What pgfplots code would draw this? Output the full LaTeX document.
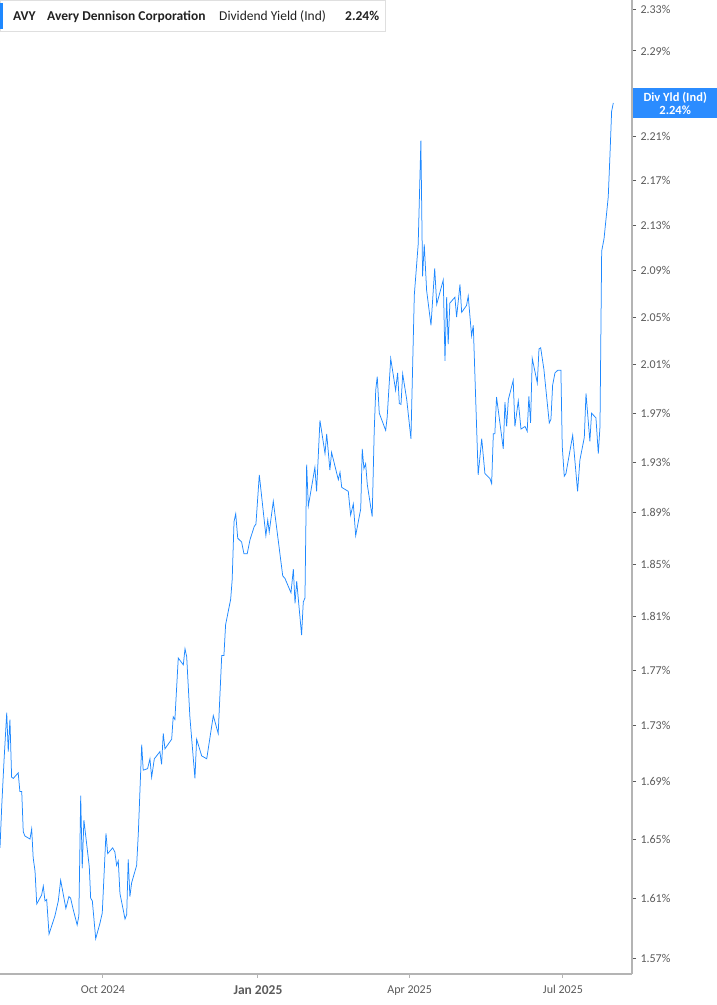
\documentclass[border=0pt]{standalone}
\usepackage{pgfplots}
\pgfplotsset{compat=1.18}
\usepackage{fontspec}
\setmainfont{Carlito}
\definecolor{lineblue}{HTML}{1E88FF}
\definecolor{tagblue}{HTML}{2B8CFF}
\definecolor{axisgray}{HTML}{B4B4B4}
\definecolor{ticktext}{HTML}{5A5A5A}
\definecolor{titletext}{HTML}{222222}

\begin{document}
\begin{tikzpicture}[x=1pt,y=1pt]
% page = 717 x 1005 px, axis box = 632 x 974 px
\path[use as bounding box] (0,-31) rectangle (717,974);
\begin{axis}[
  at={(0,0)}, anchor=south west,
  scale only axis, width=632pt, height=974pt,
  ymode=log,
  xmin=-153.1, xmax=222.0,
  ymin=1.5599, ymax=2.3391,
  axis x line*=bottom, axis y line*=right,
  axis line style={axisgray, line width=1.4pt},
  tick align=outside,
  major tick length=4pt,
  xtick={-92,0,90,181},
  xticklabels={Oct 2024,{\bfseries\fontsize{13.5}{14}\selectfont Jan 2025},Apr 2025,Jul 2025},
  x tick style={axisgray, line width=1pt},
  xticklabel style={font=\fontsize{12}{13}\selectfont, text=ticktext, yshift=-4pt},
  ytick={1.57,1.61,1.65,1.69,1.73,1.77,1.81,1.85,1.89,1.93,1.97,2.01,2.05,2.09,2.13,2.17,2.21,2.25,2.29,2.33},
  % the 2.25% label sits under the value tag
  yticklabels={1.57\%,1.61\%,1.65\%,1.69\%,1.73\%,1.77\%,1.81\%,1.85\%,1.89\%,1.93\%,1.97\%,2.01\%,2.05\%,2.09\%,2.13\%,2.17\%,2.21\%,,2.29\%,2.33\%},
  y tick style={ticktext, line width=1pt},
  yticklabel style={font=\fontsize{12}{13}\selectfont, text=ticktext, anchor=west, xshift=1pt},
  minor tick num=0,
  clip=true,
]
% x: days from 1 Jan 2025, y: dividend yield in %
\addplot[lineblue, line width=0.75pt] coordinates {
(-153.1,1.644)(-152.1,1.672)(-150.7,1.705)(-149.1,1.739)(-148.2,1.711)(-147.2,1.734)
(-146.2,1.693)(-145.2,1.692)(-142.3,1.696)(-141.3,1.683)(-140.2,1.683)(-139.3,1.655)
(-138.3,1.652)(-135.3,1.650)(-134.3,1.657)(-133.4,1.637)(-132.3,1.628)(-131.3,1.606)
(-128.4,1.612)(-127.4,1.618)(-126.4,1.608)(-125.4,1.609)(-124.0,1.586)(-120.5,1.598)
(-118.5,1.608)(-117.1,1.622)(-114.0,1.603)(-112.2,1.611)(-111.2,1.610)(-109.6,1.602)
(-107.3,1.592)(-106.3,1.598)(-105.2,1.680)(-104.3,1.630)(-103.3,1.663)(-100.1,1.631)
(-99.3,1.610)(-98.3,1.608)(-96.3,1.583)(-93.8,1.593)(-92.4,1.600)(-90.2,1.654)
(-89.2,1.640)(-86.2,1.644)(-84.9,1.641)(-83.9,1.632)(-82.9,1.635)(-81.9,1.613)
(-78.9,1.596)(-77.9,1.599)(-77.0,1.636)(-76.0,1.611)(-75.0,1.620)(-72.0,1.632)
(-71.0,1.654)(-69.0,1.716)(-68.1,1.698)(-65.5,1.699)(-64.1,1.706)(-63.1,1.693)
(-61.5,1.706)(-58.2,1.711)(-57.2,1.702)(-56.2,1.724)(-55.2,1.713)(-51.2,1.720)
(-50.3,1.736)(-49.3,1.734)(-47.3,1.779)(-44.3,1.774)(-43.3,1.786)(-42.3,1.780)
(-40.4,1.736)(-37.4,1.692)(-36.4,1.720)(-33.4,1.708)(-30.4,1.706)(-26.5,1.737)
(-23.6,1.724)(-21.5,1.781)(-20.2,1.781)(-19.2,1.804)(-16.2,1.823)(-15.3,1.838)
(-14.2,1.883)(-13.2,1.889)(-12.0,1.870)(-9.7,1.867)(-8.3,1.858)(-6.4,1.858)
(-4.7,1.869)(-2.2,1.879)(-1.2,1.881)(0.8,1.920)(4.7,1.872)(5.8,1.884)
(6.7,1.875)(9.1,1.899)(14.7,1.841)(16.0,1.839)(19.6,1.828)(21.0,1.846)
(22.0,1.820)(23.0,1.837)(25.9,1.796)(26.9,1.821)(27.9,1.824)(28.9,1.928)
(29.9,1.895)(33.8,1.926)(34.8,1.907)(36.8,1.964)(39.8,1.937)(40.8,1.953)
(42.7,1.924)(43.7,1.938)(47.7,1.916)(48.7,1.922)(49.7,1.910)(53.6,1.907)
(55.0,1.888)(56.6,1.897)(58.0,1.872)(61.0,1.893)(61.9,1.941)(62.9,1.925)
(63.9,1.929)(64.9,1.912)(67.8,1.887)(69.0,1.955)(69.9,1.989)(70.8,2.000)
(72.0,1.970)(75.8,1.956)(76.7,1.967)(78.8,2.015)(81.7,1.989)(82.9,2.003)
(83.9,1.978)(84.9,1.977)(85.9,2.002)(88.3,1.981)(90.8,1.949)(92.8,2.069)
(95.1,2.113)(96.7,2.206)(97.7,2.085)(98.7,2.113)(100.1,2.073)(102.7,2.043)
(104.9,2.092)(106.1,2.061)(110.0,2.082)(111.0,2.013)(112.0,2.067)(112.9,2.027)
(113.9,2.062)(116.9,2.067)(117.9,2.050)(119.9,2.078)(120.9,2.054)(123.8,2.060)
(124.8,2.068)(126.8,2.034)(127.8,2.043)(130.7,1.920)(132.8,1.949)(134.7,1.921)
(137.7,1.917)(138.7,1.913)(139.7,1.953)(140.6,1.953)(141.6,1.983)(145.6,1.941)
(146.6,1.979)(147.6,1.959)(148.6,1.981)(151.5,1.997)(152.5,1.959)(154.5,1.980)
(156.1,1.957)(158.5,1.959)(159.8,1.955)(160.8,1.984)(161.8,1.962)(162.8,2.015)
(165.8,1.995)(166.8,2.023)(167.8,2.024)(169.7,2.006)(172.9,1.962)(173.9,1.965)
(174.9,1.993)(176.3,2.003)(177.9,2.005)(179.8,2.005)(180.6,1.943)(181.8,1.919)
(182.8,1.921)(186.8,1.952)(189.7,1.907)(191.1,1.932)(193.7,1.950)(194.7,1.986)
(197.0,1.947)(198.0,1.970)(200.6,1.966)(202.0,1.937)(203.0,1.959)(204.0,2.107)
(205.4,2.118)(207.9,2.155)(208.9,2.192)(209.9,2.233)(210.9,2.241)
};
\end{axis}
% current value tag on the right axis
\node[fill=tagblue, text=white, font=\bfseries\fontsize{12.5}{13}\selectfont,
      align=center, anchor=west, minimum width=84pt, minimum height=30pt, inner sep=0pt]
      at (633,871) {Div Yld (Ind)\\2.24\%};
% header box
\draw[gray!25, fill=white, line width=0.8pt] (0.4,973.6) rectangle (385,943);
\fill[lineblue] (0,971) rectangle (3,945);
\node[anchor=base west, inner sep=0pt, text=titletext, font=\bfseries\fontsize{13.5}{14}\selectfont] at (13,953) {AVY};
\node[anchor=base west, inner sep=0pt, text=titletext, font=\bfseries\fontsize{13.5}{14}\selectfont] at (47,953) {Avery Dennison Corporation};
\node[anchor=base west, inner sep=0pt, text=titletext, font=\fontsize{13.5}{14}\selectfont] at (219,953) {Dividend Yield (Ind)};
\node[anchor=base west, inner sep=0pt, text=titletext, font=\bfseries\fontsize{13.5}{14}\selectfont] at (345,953) {2.24\%};
\end{tikzpicture}
\end{document}
